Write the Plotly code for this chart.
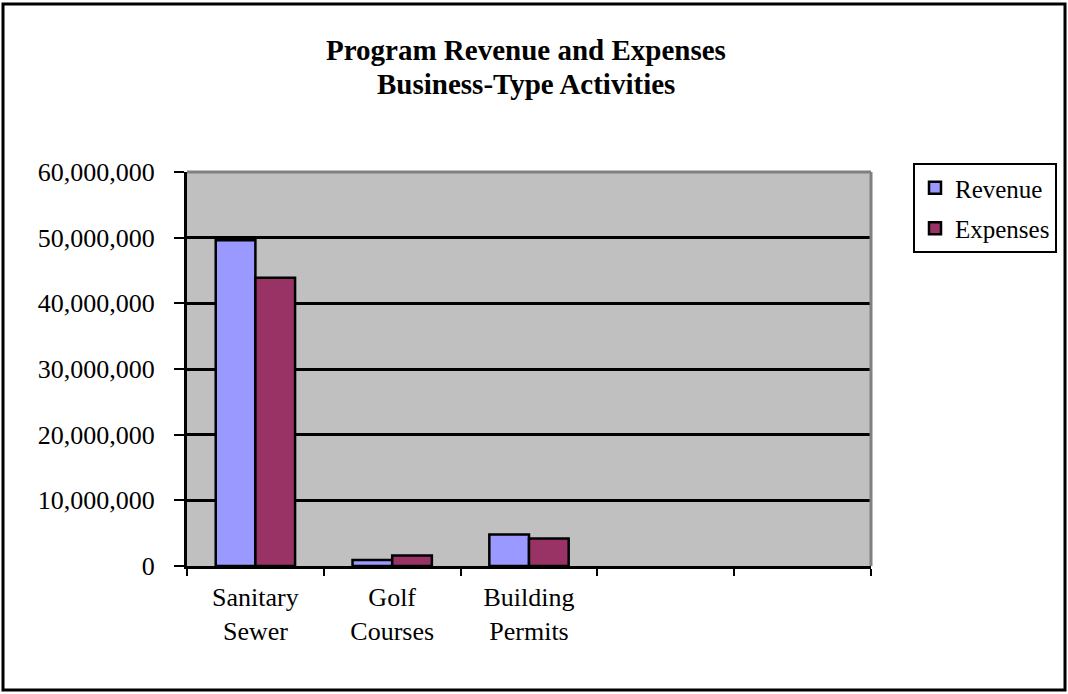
import plotly.graph_objects as go

# Activities shown on the category axis (two trailing empty slots keep the axis width)
categories = ["Sanitary<br>Sewer", "Golf<br>Courses", "Building<br>Permits", " ", "  "]
revenue = [49600000, 900000, 4800000, None, None]
expenses = [43900000, 1600000, 4200000, None, None]
y_tickvals = [0, 10000000, 20000000, 30000000, 40000000, 50000000, 60000000]
y_ticktext = ["0", "10,000,000", "20,000,000", "30,000,000", "40,000,000", "50,000,000", "60,000,000"]
title_lines = ["Program Revenue and Expenses", "Business-Type Activities"]

W, H = 1068, 694
L, R, T, B = 187, 197, 172, 128
pw, ph = W - L - R, H - T - B

def px_x(x):
    return (x - L) / pw

def px_y(y):
    return (H - B - y) / ph

font = "Liberation Serif, Times New Roman, serif"

fig = go.Figure()
fig.add_trace(go.Bar(
    x=categories, y=revenue, name="Revenue", legendgroup="a",
    marker=dict(color="#9999FF", line=dict(color="black", width=2.5)),
))
fig.add_trace(go.Bar(
    x=categories, y=expenses, name="Expenses", legendgroup="b",
    marker=dict(color="#993366", line=dict(color="black", width=2.5)),
))

# two-line bold heading, each line placed separately
for text, yc in zip(title_lines, [50, 84]):
    fig.add_annotation(
        text=f"<b>{text}</b>", xref="paper", yref="paper",
        x=px_x(526), y=px_y(yc), xanchor="center", yanchor="middle",
        showarrow=False, font=dict(family=font, size=29, color="black"),
    )

fig.update_layout(
    width=W, height=H,
    margin=dict(l=L, r=R, t=T, b=B, autoexpand=False),
    paper_bgcolor="white",
    plot_bgcolor="#C0C0C0",
    bargap=0.42, bargroupgap=0,
    font=dict(family=font, size=26, color="black"),
    showlegend=True,
    legend=dict(
        x=px_x(913), xanchor="left", y=px_y(163), yanchor="top",
        bordercolor="black", borderwidth=2, bgcolor="white",
        font=dict(family=font, size=25), traceorder="grouped",
        tracegroupgap=5, itemwidth=30,
    ),
    xaxis=dict(
        type="category", categoryorder="array", categoryarray=categories,
        range=[-0.5, 4.5], tickson="boundaries", ticks="outside",
        ticklen=7, tickwidth=2, tickcolor="black",
        showline=True, linecolor="black", linewidth=3,
        showgrid=False, tickfont=dict(family=font, size=26),
        ticklabelstandoff=6,
        fixedrange=True,
    ),
    yaxis=dict(
        range=[0, 60000000], tickvals=y_tickvals, ticktext=y_ticktext,
        ticks="outside", ticklen=10, tickwidth=2, tickcolor="black",
        showline=True, linecolor="black", linewidth=3,
        showgrid=True, gridcolor="black", gridwidth=2.5, zeroline=False,
        tickfont=dict(family=font, size=26),
        ticklabelstandoff=14,
        fixedrange=True,
    ),
    shapes=[
        # grey frame on the top and right edges of the plotting area
        dict(type="line", xref="paper", yref="paper", x0=0, x1=1, y0=1, y1=1,
             line=dict(color="#808080", width=3), layer="above"),
        dict(type="line", xref="paper", yref="paper", x0=1, x1=1, y0=0, y1=1,
             line=dict(color="#808080", width=3), layer="above"),
        # outer border of the chart
        dict(type="rect", xref="paper", yref="paper",
             x0=px_x(3), x1=px_x(1065), y0=px_y(690), y1=px_y(4),
             line=dict(color="black", width=3), fillcolor="rgba(0,0,0,0)", layer="above"),
    ],
)

fig.write_html("out.html")
